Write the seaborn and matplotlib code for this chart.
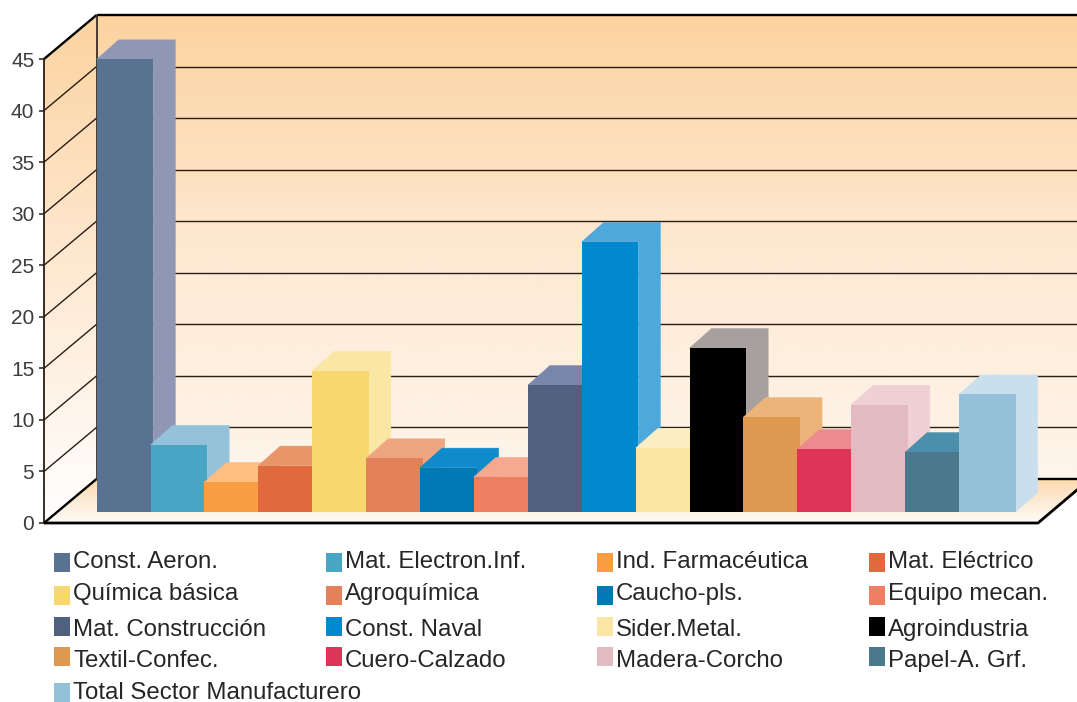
import matplotlib
matplotlib.use("Agg")
import matplotlib.pyplot as plt
import numpy as np
import seaborn as sns
from matplotlib.colors import LinearSegmentedColormap
from matplotlib.patches import Polygon, Rectangle

# Sector names, values (%), and face colours
categories = ["Const. Aeron.", "Mat. Electron.Inf.", "Ind. Farmacéutica", "Mat. Eléctrico",
              "Química básica", "Agroquímica", "Caucho-pls.", "Equipo mecan.",
              "Mat. Construcción", "Const. Naval", "Sider.Metal.", "Agroindustria",
              "Textil-Confec.", "Cuero-Calzado", "Madera-Corcho", "Papel-A. Grf.",
              "Total Sector Manufacturero"]
values = [43.9, 6.5, 2.9, 4.5, 13.7, 5.2, 4.3, 3.4, 12.3, 26.2, 6.2, 15.9, 9.2, 6.1, 10.4, 5.8, 11.4]
front_colors = ["#5A7291", "#48A5C3", "#F89D41", "#E0693E", "#F7D86E", "#E3825A", "#0079B5", "#EF7F62",
                "#50607F", "#0089CC", "#FBE5A5", "#000000", "#DE984F", "#DF3358", "#E2BAC0", "#4A788C",
                "#93C1DA"]
side_colors = ["#8F97B5", "#93C2DA", "#FDBE80", "#E8956A", "#FAE7A6", "#EDA680", "#0F8ACB", "#F6A98E",
               "#7986AB", "#4FA8DC", "#FBEEC3", "#A8A09F", "#EDB479", "#EC8A8F", "#EFD0D4", "#4C8FAC",
               "#C9DFED"]
tick_values = [0, 5, 10, 15, 20, 25, 30, 35, 40, 45]

W, H = 1077, 702
PX_PER_BAR = 53.9
PX_PER_UNIT = 10.31
BASE_PX = 512.0
FIRST_BAR_PX = 98.0


def data_x(px):
    return (px - FIRST_BAR_PX) / PX_PER_BAR - 0.5


def data_y(px):
    return (BASE_PX - px) / PX_PER_UNIT


sns.set_style("white")
plt.rcParams["font.family"] = ["Liberation Sans", "DejaVu Sans"]

fig = plt.figure(figsize=(W / 100, H / 100), dpi=100)
ax = fig.add_axes([0, 0, 1, 1])

sns.barplot(x=categories, y=values, hue=categories, palette=front_colors, saturation=1,
            width=1.05, dodge=False, legend=False, ax=ax)

# Extrude each bar: later bars are painted over earlier ones
depth_x = 22 / PX_PER_BAR
depth_y = 19.5 / PX_PER_UNIT
for i, container in enumerate(ax.containers):
    for bar in container:
        if bar.get_height() == 0:
            continue
        x0, x1, h = bar.get_x(), bar.get_x() + bar.get_width(), bar.get_height()
        z = 5 + i
        bar.set_zorder(z + 0.2)
        bar.set_linewidth(0)
        outline = [(x1, 0), (x1 + depth_x, depth_y), (x1 + depth_x, h + depth_y),
                   (x0 + depth_x, h + depth_y), (x0, h), (x1, h)]
        ax.add_patch(Polygon(outline, closed=True, fc=side_colors[i], ec=side_colors[i], lw=0.4, zorder=z))

# Box geometry: front and back planes of the value axis
front_x, back_x = data_x(44), data_x(96.5)
right_front_x, right_back_x = data_x(1038), data_x(1090)
front_off, back_off = data_y(523), data_y(479)
y_max = tick_values[-1]


def gradient_panel(corners, colors, y_low, y_high):
    cmap = LinearSegmentedColormap.from_list("panel", colors)
    im = ax.imshow(np.linspace(1, 0, 256).reshape(-1, 1), cmap=cmap, aspect="auto", vmin=0, vmax=1,
                   extent=(data_x(0), data_x(W), y_low, y_high), zorder=0.5)
    clip = Polygon(corners, closed=True, transform=ax.transData, fc="none", ec="none")
    ax.add_patch(clip)
    im.set_clip_path(clip)


wall_colors = ["#FEF5EB", "#FEE9D2", "#FCD3A0"]
gradient_panel([(back_x, back_off), (right_back_x, back_off), (right_back_x, y_max + back_off), (back_x, y_max + back_off)],
               wall_colors, back_off, y_max + back_off)
gradient_panel([(front_x, front_off), (back_x, back_off), (back_x, y_max + back_off), (front_x, y_max + front_off)],
               ["#FFFFFF", "#FEE9D2", "#FCD3A0"], front_off, y_max + back_off)
gradient_panel([(front_x, front_off), (right_front_x, front_off), (right_back_x, back_off), (back_x, back_off)],
               ["#FFFBF7", "#FDEBD6", "#FBD9AC"], front_off, back_off)

# Grid lines on the back wall and the side wall
line_color = "#2B1D14"
for v in tick_values:
    edge = v in (0, y_max)
    lw = 1.7 if edge else 1.0
    col = "black" if edge else line_color
    ax.plot([back_x, right_back_x], [v + back_off] * 2, color=col, lw=lw, zorder=2, solid_capstyle="butt")
    ax.plot([front_x, back_x], [v + front_off, v + back_off], color=col, lw=lw, zorder=2, solid_capstyle="butt")
ax.plot([back_x, back_x], [back_off, y_max + back_off], color=line_color, lw=1.2, zorder=2)
ax.plot([front_x, right_front_x, right_back_x], [front_off, front_off, back_off], color="black", lw=2.0, zorder=4,
        solid_capstyle="butt")

# Value axis on the front plane
ax.set_xlim(data_x(0), data_x(W))
ax.set_ylim(data_y(H), data_y(0))
ax.grid(False)
for name in ("top", "right", "bottom"):
    ax.spines[name].set_visible(False)
ax.spines["left"].set_position(("data", front_x))
ax.spines["left"].set_bounds(front_off, y_max + front_off)
ax.spines["left"].set_color(line_color)
ax.spines["left"].set_linewidth(1.3)
ax.set_xticks([])
ax.set_yticks([v + front_off for v in tick_values], labels=[str(v) for v in tick_values])
ax.tick_params(axis="y", left=True, length=3.5, width=1.1, color=line_color, pad=3.5, labelsize=15, labelcolor="#3C3C3C")
ax.set_xlabel("")
ax.set_ylabel("")
ax.patch.set_visible(False)

# Key laid out in rows across four fixed columns
legend_cols = [54, 326, 597, 869]
swatch_tops = [553, 586, 617, 647, 683]
text_baselines = [568, 600, 636, 667, 699]
for i, (name, color) in enumerate(zip(categories, front_colors)):
    row, col = divmod(i, 4)
    lx = legend_cols[col]
    fig.add_artist(Rectangle((lx / W, 1 - (swatch_tops[row] + 19) / H), 15.5 / W, 19 / H,
                             transform=fig.transFigure, fc=color, ec="none"))
    fig.text((lx + 19) / W, 1 - text_baselines[row] / H, name, ha="left", va="baseline",
             fontsize=17.3, color="#262626")

fig.savefig("out.png", dpi=100)
